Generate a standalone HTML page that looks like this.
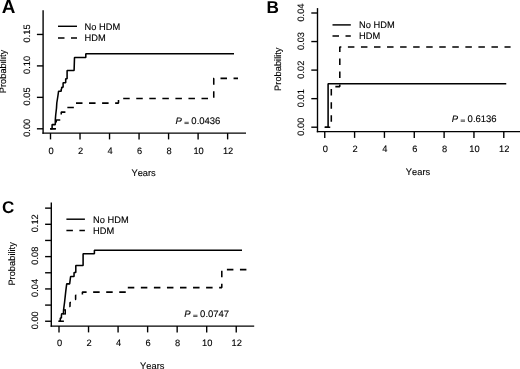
<!DOCTYPE html>
<html><head><meta charset="utf-8"><style>
html,body{margin:0;padding:0;background:#fff;}
svg{display:block}
text{font-family:"Liberation Sans",sans-serif;fill:#000;stroke:#000;stroke-width:0.12px;font-kerning:none;text-rendering:geometricPrecision}
svg{will-change:transform;opacity:0.999}
</style></head><body>
<svg width="520" height="369" viewBox="0 0 520 369">
<rect width="520" height="369" fill="#fff"/>
<text x="1.7" y="12.5" font-size="18.9" font-weight="bold" style="stroke:none">A</text>
<line x1="43.1" y1="10.25" x2="43.1" y2="133.79" stroke="#000" stroke-width="1.38"/>
<line x1="42.410000000000004" y1="133.1" x2="246" y2="133.1" stroke="#000" stroke-width="1.38"/>
<line x1="50.5" y1="133.1" x2="50.5" y2="139.4" stroke="#000" stroke-width="1.38"/>
<text x="51.0" y="153.5" font-size="9.3" text-anchor="middle">0</text>
<line x1="80.02" y1="133.1" x2="80.02" y2="139.4" stroke="#000" stroke-width="1.38"/>
<text x="80.52" y="153.5" font-size="9.3" text-anchor="middle">2</text>
<line x1="109.53999999999999" y1="133.1" x2="109.53999999999999" y2="139.4" stroke="#000" stroke-width="1.38"/>
<text x="110.04" y="153.5" font-size="9.3" text-anchor="middle">4</text>
<line x1="139.06" y1="133.1" x2="139.06" y2="139.4" stroke="#000" stroke-width="1.38"/>
<text x="139.56" y="153.5" font-size="9.3" text-anchor="middle">6</text>
<line x1="168.57999999999998" y1="133.1" x2="168.57999999999998" y2="139.4" stroke="#000" stroke-width="1.38"/>
<text x="169.08" y="153.5" font-size="9.3" text-anchor="middle">8</text>
<line x1="198.1" y1="133.1" x2="198.1" y2="139.4" stroke="#000" stroke-width="1.38"/>
<text x="198.6" y="153.5" font-size="9.3" text-anchor="middle">10</text>
<line x1="227.62" y1="133.1" x2="227.62" y2="139.4" stroke="#000" stroke-width="1.38"/>
<text x="228.12" y="153.5" font-size="9.3" text-anchor="middle">12</text>
<line x1="36.9" y1="128.8" x2="43.1" y2="128.8" stroke="#000" stroke-width="1.38"/>
<line x1="36.9" y1="97.35000000000001" x2="43.1" y2="97.35000000000001" stroke="#000" stroke-width="1.38"/>
<line x1="36.9" y1="65.9" x2="43.1" y2="65.9" stroke="#000" stroke-width="1.38"/>
<line x1="36.9" y1="34.45000000000002" x2="43.1" y2="34.45000000000002" stroke="#000" stroke-width="1.38"/>
<text x="29.6" y="127.8" font-size="9.3" text-anchor="middle" transform="rotate(-90 29.6 127.8)">0.00</text>
<text x="29.6" y="96.35" font-size="9.3" text-anchor="middle" transform="rotate(-90 29.6 96.35)">0.05</text>
<text x="29.6" y="64.9" font-size="9.3" text-anchor="middle" transform="rotate(-90 29.6 64.9)">0.10</text>
<text x="29.6" y="33.45" font-size="9.3" text-anchor="middle" transform="rotate(-90 29.6 33.45)">0.15</text>
<text x="6.3" y="71.5" font-size="9.3" text-anchor="middle" transform="rotate(-90 6.3 71.5)">Probability</text>
<line x1="58" y1="26.3" x2="77" y2="26.3" stroke="#000" stroke-width="1.45"/>
<line x1="58" y1="38" x2="77" y2="38" stroke="#000" stroke-width="1.45" stroke-dasharray="6.5 6.5"/>
<text x="84.5" y="29.5" font-size="9.3">No HDM</text>
<text x="84.5" y="41" font-size="9.3">HDM</text>
<text y="124.25" font-size="9.5"><tspan x="175.45" font-style="italic">P</tspan><tspan x="191.35">0.0436</tspan></text>
<line x1="184.45" y1="122.3" x2="188.75" y2="122.3" stroke="#000" stroke-width="0.65"/>
<line x1="184.45" y1="123.55" x2="188.75" y2="123.55" stroke="#000" stroke-width="0.65"/>
<text x="143.6" y="176.4" font-size="9.3" text-anchor="middle">Years</text>
<line x1="50.25" y1="128.75" x2="55.6" y2="128.75" stroke="#000" stroke-width="1.55"/>
<path d="M50.25 128.75 L52.1 128.75 L52.1 124.6 L55.3 124.6 L55.3 120 L55.7 115 L56.5 108 L56.8 103 L57.9 96 L58.6 91.2 L61.2 91.2 L61.2 89 L61.7 89 L61.7 87.3 L63.1 87.3 L63.1 82.7 L65.7 82.7 L65.7 78.7 L67.1 78.7 L67.1 70.5 L74.1 70.5 L74.5 57.5 L85.8 57.5 L85.8 53.75 L234 53.75" fill="none" stroke="#000" stroke-width="1.55" stroke-linejoin="bevel"/>
<path d="M50.25 128.75 L56.25 128.75 L56.25 120 L61.25 120 L61.25 112.1 L66 112.1 L66 107.5 L75 107.5 L75 103.1 L118.5 103.1 L118.5 98.5" fill="none" stroke="#000" stroke-width="1.55" stroke-dasharray="6.5 6.55" stroke-dashoffset="0.8" stroke-linejoin="bevel"/>
<path d="M118.5 98.5 L213.75 98.5 L213.75 78.35 L238 78.35" fill="none" stroke="#000" stroke-width="1.55" stroke-dasharray="6.5 6.55" stroke-dashoffset="8.35" stroke-linejoin="bevel"/>
<text x="266.4" y="13.2" font-size="17.2" font-weight="bold" style="stroke:none">B</text>
<line x1="317.5" y1="8.1" x2="317.5" y2="132.29" stroke="#000" stroke-width="1.38"/>
<line x1="316.81" y1="131.6" x2="520" y2="131.6" stroke="#000" stroke-width="1.38"/>
<line x1="324.75" y1="131.6" x2="324.75" y2="137.9" stroke="#000" stroke-width="1.38"/>
<text x="325.25" y="152.0" font-size="9.3" text-anchor="middle">0</text>
<line x1="354.59" y1="131.6" x2="354.59" y2="137.9" stroke="#000" stroke-width="1.38"/>
<text x="355.09" y="152.0" font-size="9.3" text-anchor="middle">2</text>
<line x1="384.43" y1="131.6" x2="384.43" y2="137.9" stroke="#000" stroke-width="1.38"/>
<text x="384.93" y="152.0" font-size="9.3" text-anchor="middle">4</text>
<line x1="414.27" y1="131.6" x2="414.27" y2="137.9" stroke="#000" stroke-width="1.38"/>
<text x="414.77" y="152.0" font-size="9.3" text-anchor="middle">6</text>
<line x1="444.11" y1="131.6" x2="444.11" y2="137.9" stroke="#000" stroke-width="1.38"/>
<text x="444.61" y="152.0" font-size="9.3" text-anchor="middle">8</text>
<line x1="473.95" y1="131.6" x2="473.95" y2="137.9" stroke="#000" stroke-width="1.38"/>
<text x="474.45" y="152.0" font-size="9.3" text-anchor="middle">10</text>
<line x1="503.78999999999996" y1="131.6" x2="503.78999999999996" y2="137.9" stroke="#000" stroke-width="1.38"/>
<text x="504.29" y="152.0" font-size="9.3" text-anchor="middle">12</text>
<line x1="311.3" y1="127.2" x2="317.5" y2="127.2" stroke="#000" stroke-width="1.38"/>
<line x1="311.3" y1="98.65" x2="317.5" y2="98.65" stroke="#000" stroke-width="1.38"/>
<line x1="311.3" y1="70.1" x2="317.5" y2="70.1" stroke="#000" stroke-width="1.38"/>
<line x1="311.3" y1="41.55" x2="317.5" y2="41.55" stroke="#000" stroke-width="1.38"/>
<line x1="311.3" y1="13.0" x2="317.5" y2="13.0" stroke="#000" stroke-width="1.38"/>
<text x="303.9" y="126.7" font-size="9.3" text-anchor="middle" transform="rotate(-90 303.9 126.7)">0.00</text>
<text x="303.9" y="98.15" font-size="9.3" text-anchor="middle" transform="rotate(-90 303.9 98.15)">0.01</text>
<text x="303.9" y="69.6" font-size="9.3" text-anchor="middle" transform="rotate(-90 303.9 69.6)">0.02</text>
<text x="303.9" y="41.05" font-size="9.3" text-anchor="middle" transform="rotate(-90 303.9 41.05)">0.03</text>
<text x="303.9" y="12.5" font-size="9.3" text-anchor="middle" transform="rotate(-90 303.9 12.5)">0.04</text>
<text x="280.9" y="69.2" font-size="9.3" text-anchor="middle" transform="rotate(-90 280.9 69.2)">Probability</text>
<line x1="332.5" y1="24.9" x2="350.8" y2="24.9" stroke="#000" stroke-width="1.45"/>
<line x1="332.5" y1="36" x2="350.8" y2="36" stroke="#000" stroke-width="1.45" stroke-dasharray="6.5 6.5"/>
<text x="359" y="28" font-size="9.3">No HDM</text>
<text x="359" y="39" font-size="9.3">HDM</text>
<text y="122" font-size="9.5"><tspan x="451.7" font-style="italic">P</tspan><tspan x="467.6">0.6136</tspan></text>
<line x1="460.7" y1="120.05" x2="465" y2="120.05" stroke="#000" stroke-width="0.65"/>
<line x1="460.7" y1="121.3" x2="465" y2="121.3" stroke="#000" stroke-width="0.65"/>
<text x="418" y="174.5" font-size="9.3" text-anchor="middle">Years</text>
<path d="M324.75 127.2 L328.1 127.2 L328.1 83.65 L506.25 83.65" fill="none" stroke="#000" stroke-width="1.55" stroke-linejoin="bevel"/>
<path d="M324.75 127.2 L331.3 127.2 L331.3 86.6 L339.8 86.6 L339.8 46.95 L510.6 46.95" fill="none" stroke="#000" stroke-width="1.55" stroke-dasharray="6.5 6.55" stroke-dashoffset="1.0" stroke-linejoin="bevel"/>
<text x="2.1" y="213.45" font-size="17.0" font-weight="bold" style="stroke:none">C</text>
<line x1="51.3" y1="202.5" x2="51.3" y2="326.79" stroke="#000" stroke-width="1.38"/>
<line x1="50.61" y1="326.1" x2="254.2" y2="326.1" stroke="#000" stroke-width="1.38"/>
<line x1="59.0" y1="326.1" x2="59.0" y2="332.40000000000003" stroke="#000" stroke-width="1.38"/>
<text x="59.5" y="346.35" font-size="9.3" text-anchor="middle">0</text>
<line x1="88.53999999999999" y1="326.1" x2="88.53999999999999" y2="332.40000000000003" stroke="#000" stroke-width="1.38"/>
<text x="89.04" y="346.35" font-size="9.3" text-anchor="middle">2</text>
<line x1="118.08" y1="326.1" x2="118.08" y2="332.40000000000003" stroke="#000" stroke-width="1.38"/>
<text x="118.58" y="346.35" font-size="9.3" text-anchor="middle">4</text>
<line x1="147.62" y1="326.1" x2="147.62" y2="332.40000000000003" stroke="#000" stroke-width="1.38"/>
<text x="148.12" y="346.35" font-size="9.3" text-anchor="middle">6</text>
<line x1="177.16" y1="326.1" x2="177.16" y2="332.40000000000003" stroke="#000" stroke-width="1.38"/>
<text x="177.66" y="346.35" font-size="9.3" text-anchor="middle">8</text>
<line x1="206.7" y1="326.1" x2="206.7" y2="332.40000000000003" stroke="#000" stroke-width="1.38"/>
<text x="207.2" y="346.35" font-size="9.3" text-anchor="middle">10</text>
<line x1="236.24" y1="326.1" x2="236.24" y2="332.40000000000003" stroke="#000" stroke-width="1.38"/>
<text x="236.74" y="346.35" font-size="9.3" text-anchor="middle">12</text>
<line x1="45.099999999999994" y1="321.25" x2="51.3" y2="321.25" stroke="#000" stroke-width="1.38"/>
<line x1="45.099999999999994" y1="305.09" x2="51.3" y2="305.09" stroke="#000" stroke-width="1.38"/>
<line x1="45.099999999999994" y1="288.93" x2="51.3" y2="288.93" stroke="#000" stroke-width="1.38"/>
<line x1="45.099999999999994" y1="272.77" x2="51.3" y2="272.77" stroke="#000" stroke-width="1.38"/>
<line x1="45.099999999999994" y1="256.61" x2="51.3" y2="256.61" stroke="#000" stroke-width="1.38"/>
<line x1="45.099999999999994" y1="240.45" x2="51.3" y2="240.45" stroke="#000" stroke-width="1.38"/>
<line x1="45.099999999999994" y1="224.29" x2="51.3" y2="224.29" stroke="#000" stroke-width="1.38"/>
<line x1="45.099999999999994" y1="208.13" x2="51.3" y2="208.13" stroke="#000" stroke-width="1.38"/>
<text x="37.8" y="320.25" font-size="9.3" text-anchor="middle" transform="rotate(-90 37.8 320.25)">0.00</text>
<text x="37.8" y="287.93" font-size="9.3" text-anchor="middle" transform="rotate(-90 37.8 287.93)">0.04</text>
<text x="37.8" y="255.61" font-size="9.3" text-anchor="middle" transform="rotate(-90 37.8 255.61)">0.08</text>
<text x="37.8" y="223.29" font-size="9.3" text-anchor="middle" transform="rotate(-90 37.8 223.29)">0.12</text>
<text x="14.7" y="263.9" font-size="9.3" text-anchor="middle" transform="rotate(-90 14.7 263.9)">Probability</text>
<line x1="66.4" y1="219.2" x2="84.9" y2="219.2" stroke="#000" stroke-width="1.45"/>
<line x1="66.4" y1="230.5" x2="84.9" y2="230.5" stroke="#000" stroke-width="1.45" stroke-dasharray="6.5 6.5"/>
<text x="93" y="222.65" font-size="9.3">No HDM</text>
<text x="93" y="233.5" font-size="9.3">HDM</text>
<text y="317.2" font-size="9.5"><tspan x="184.2" font-style="italic">P</tspan><tspan x="200.1">0.0747</tspan></text>
<line x1="193.2" y1="315.25" x2="197.5" y2="315.25" stroke="#000" stroke-width="0.65"/>
<line x1="193.2" y1="316.5" x2="197.5" y2="316.5" stroke="#000" stroke-width="0.65"/>
<text x="152.25" y="368.7" font-size="9.3" text-anchor="middle">Years</text>
<line x1="58.3" y1="321.25" x2="63.9" y2="321.25" stroke="#000" stroke-width="1.55"/>
<rect x="63.6" y="309.8" width="1.8" height="4.2" fill="none" stroke="#000" stroke-width="1.2"/>
<path d="M59 321.25 L60.3 321.25 L60.3 318 L61.4 318 L61.4 316 L61.65 313.8 L63.4 313.8 L63.6 309.7 L64.6 302 L65.75 291.4 L66.7 283.85 L69.65 283.85 L70.6 276.5 L74.05 276.5 L74.05 272.5 L75.8 272.5 L75.8 265.4 L83.1 265.4 L83.1 253.75 L94.4 253.75 L94.4 250.15 L242 250.15" fill="none" stroke="#000" stroke-width="1.55" stroke-linejoin="bevel"/>
<path d="M69.2 306.5 L70 306.5 L70 302.5 L71 302.5" fill="none" stroke="#000" stroke-width="1.55" stroke-linejoin="bevel"/>
<path d="M75 299.4 L75.6 299.4 L75.6 295.2 L76.4 295.2" fill="none" stroke="#000" stroke-width="1.55" stroke-linejoin="bevel"/>
<path d="M82.4 294.4 L82.4 292.1 L126.9 292.1 L126.9 287.6 L221.8 287.6 L221.8 270.4" fill="none" stroke="#000" stroke-width="1.55" stroke-dasharray="6.5 6.55" stroke-dashoffset="0" stroke-linejoin="bevel"/>
<path d="M226.9 269.6 L246.4 269.6" fill="none" stroke="#000" stroke-width="1.55" stroke-dasharray="6.5 6.55" stroke-dashoffset="0" stroke-linejoin="bevel"/>
</svg>
</body></html>
